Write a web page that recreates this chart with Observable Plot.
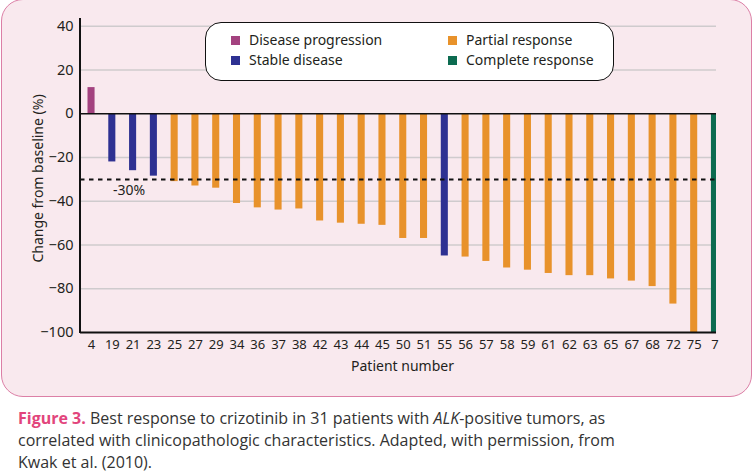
<!DOCTYPE html>
<html>
<head>
<meta charset="utf-8">
<script src="https://cdn.jsdelivr.net/npm/d3@7"></script>
<script src="https://cdn.jsdelivr.net/npm/@observablehq/plot@0.6"></script>
<style>
  body { margin: 0; background: #ffffff; }
  #wrap { position: relative; width: 754px; height: 476px; overflow: hidden; }
  #panel { position: absolute; left: 1px; top: -1px; width: 751px; height: 398px; box-sizing: border-box;
           border: 1.5px solid #dc7fa6; border-radius: 22px; background: #f9e9ee; }
  #chart { position: absolute; left: 0; top: 0; }
  #legend { position: absolute; left: 205px; top: 22px; width: 409px; height: 59px; box-sizing: border-box;
            border: 1.3px solid #111; border-radius: 16px; background: #ffffff;
            font-family: "Noto Sans", sans-serif; font-size: 14px; color: #231f20; }
  .item { position: absolute; display: flex; align-items: center; white-space: nowrap; line-height: 18px; }
  .sw { width: 9px; height: 9px; margin-right: 9px; }
  #caption { position: absolute; left: 18px; top: 407px; width: 736px; font-family: "Open Sans", sans-serif;
             font-size: 16px; line-height: 22px; color: #333333; }
  #caption div { white-space: nowrap; }
  #caption b { color: #e2457c; font-weight: 700; }
</style>
</head>
<body>
<div id="wrap">
  <div id="panel"></div>
  <div id="chart"></div>
  <div id="legend"></div>
  <div id="caption">
    <div><b>Figure 3.</b><span> Best response to crizotinib in 31 patients with </span><i>ALK</i><span>-positive tumors, as</span></div>
    <div><span>correlated with clinicopathologic characteristics. Adapted, with permission, from</span></div>
    <div><span>Kwak et al. (2010).</span></div>
  </div>
</div>
<script>
const patients = ["4","19","21","23","25","27","29","34","36","37","38","42","43","44","45","50","51","55","56","57","58","59","61","62","63","65","67","68","72","75","7"];
const changes = [12,-22,-26,-28.5,-31,-33,-34,-41,-43,-44,-43.5,-49,-50,-50.5,-51,-57,-57,-65,-65.5,-67.5,-70.5,-71.5,-73,-74,-74,-75.5,-76.5,-79,-87,-100,-100];
const responses = ["Disease progression","Stable disease","Stable disease","Stable disease",
  "Partial response","Partial response","Partial response","Partial response","Partial response","Partial response","Partial response",
  "Partial response","Partial response","Partial response","Partial response","Partial response","Partial response",
  "Stable disease",
  "Partial response","Partial response","Partial response","Partial response","Partial response","Partial response","Partial response",
  "Partial response","Partial response","Partial response","Partial response","Partial response",
  "Complete response"];
const categories = ["Disease progression","Stable disease","Partial response","Complete response"];
const colors = ["#a3427f","#2e3192","#e8922b","#0c6b50"];
const yTicks = [40,20,0,-20,-40,-60,-80,-100];
const gridValues = [40,20,-20,-40,-60,-80];
const threshold = -30;

const data = patients.map((p, i) => ({patient: p, change: changes[i], response: responses[i]}));

const W = 754, H = 380;
const marginLeft = 80, marginRight = 38, marginTop = 18, marginBottom = 48;

const axisLine = (index, scales, values, dimensions) => {
  const g = d3.create("svg:g");
  g.append("line")
    .attr("x1", dimensions.marginLeft).attr("x2", dimensions.marginLeft)
    .attr("y1", dimensions.marginTop).attr("y2", dimensions.height - dimensions.marginBottom + 1)
    .attr("stroke", "#111").attr("stroke-width", 2);
  return g.node();
};

const chart = Plot.plot({
  width: W, height: H,
  marginLeft, marginRight, marginTop, marginBottom,
  style: {background: "transparent", fontFamily: "'Noto Sans', sans-serif", fontSize: "13px", color: "#231f20"},
  x: {type: "band", domain: patients, insetLeft: 7.5, insetRight: -2, paddingInner: 0.66, paddingOuter: 0, align: 0.5, round: false},
  y: {domain: [-100, 43.6]},
  color: {domain: categories, range: colors},
  marks: [
    Plot.ruleY(gridValues, {stroke: "#cfcbcd", strokeWidth: 1.5}),
    Plot.barY(data, {x: "patient", y: "change", fill: "response", clip: true}),
    Plot.ruleY([0], {stroke: "#111", strokeWidth: 1.5}),
    Plot.ruleY([threshold], {stroke: "#111", strokeWidth: 2, strokeDasharray: "4.5,4.5"}),
    Plot.text([threshold], {x: () => patients[2], y: d => d, text: d => `${d}%`, dx: -4, dy: 11, fontSize: 14}),
    Plot.ruleY([-100], {stroke: "#111", strokeWidth: 2}),
    axisLine,
    Plot.axisY({ticks: yTicks, tickSize: 0, tickPadding: 7, fontSize: 14.5, label: null}),
    Plot.axisX({tickSize: 0, tickPadding: 7, fontSize: 13, label: null}),
    Plot.text(["Change from baseline (%)"], {text: d => d, frameAnchor: "left", textAnchor: "middle", lineAnchor: "middle", dx: -42, dy: 3, rotate: -90, fontSize: 14}),
    Plot.text(["Patient number"], {text: d => d, frameAnchor: "bottom", lineAnchor: "middle", dx: 4, dy: 34, fontSize: 14})
  ]
});
document.getElementById("chart").appendChild(chart);

// legend
const legend = document.getElementById("legend");
const pos = [[25, 8], [25, 28], [242, 8], [242, 28]];
categories.forEach((c, i) => {
  const it = document.createElement("div");
  it.className = "item";
  it.style.left = pos[i][0] + "px";
  it.style.top = pos[i][1] + "px";
  it.innerHTML = `<span class="sw" style="background:${colors[i]}"></span><span>${c}</span>`;
  legend.appendChild(it);
});
</script>
</body>
</html>
